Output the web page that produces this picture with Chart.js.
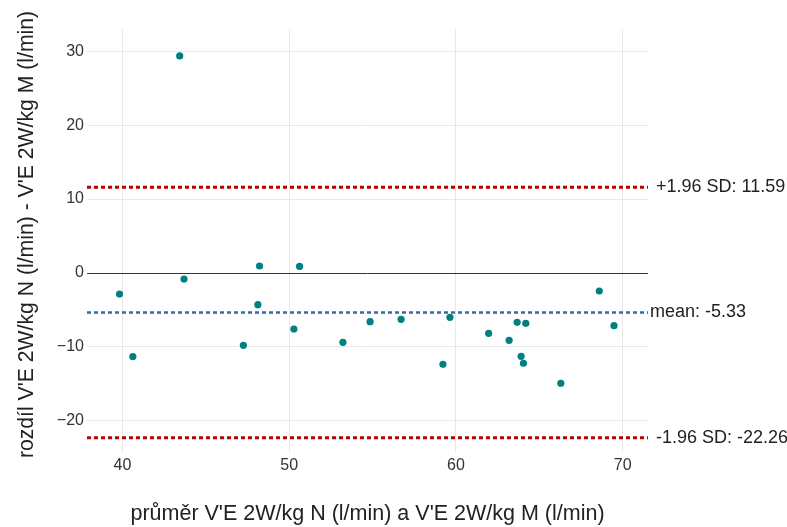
<!DOCTYPE html>
<html>
<head>
<meta charset="utf-8">
<script src="https://cdn.jsdelivr.net/npm/chart.js@4/dist/chart.umd.min.js"></script>
<style>
  html, body { margin: 0; padding: 0; background: #fff; }
  #wrap { width: 787px; height: 527px; }
</style>
</head>
<body>
<div id="wrap"><canvas id="canvas" width="787" height="527"></canvas></div>
<script>
// průměr obou měření (osa x)
var meanValues = [43.43, 39.82, 40.62, 43.69, 47.25, 48.22, 48.12, 50.62, 50.28, 53.22, 54.85,
  56.71, 59.64, 59.22, 61.96, 63.19, 63.67, 64.19, 63.91, 64.05, 66.29, 68.60, 69.48];
// rozdíl N - M (osa y)
var diffValues = [29.36, -2.84, -11.30, -0.81, -9.77, 0.95, -4.28, 0.90, -7.57, -9.37, -6.58,
  -6.26, -5.99, -12.34, -8.15, -9.10, -6.67, -6.80, -11.26, -12.20, -14.90, -2.43, -7.12];

var meanDiff = -5.33;
var upperLoA = 11.59;
var lowerLoA = -22.26;

var xMin = 37.87, xMax = 71.52;
var yMin = -24.2, yMax = 33.0;
var xTicks = [40, 50, 60, 70];
var yTicks = [-20, -10, 0, 10, 20, 30];

var xTitle = 'průměr V\'E 2W/kg N (l/min) a V\'E 2W/kg M (l/min)';
var yTitle = 'rozdíl V\'E 2W/kg N (l/min) - V\'E 2W/kg M (l/min)';

var FONT = '"Liberation Sans", Arial, sans-serif';

function hLine(value) {
  return [{ x: xMin, y: value }, { x: xMax, y: value }];
}

var points = meanValues.map(function(v, i) {
  return { x: v, y: diffValues[i] };
});

//==============================================> popisky čar vpravo + titulek osy y
var lineLabels = {
  id: 'lineLabels',
  afterDraw: function(chart) {
    var ctx = chart.ctx;
    var y = chart.scales.y;
    var right = chart.chartArea.right;
    ctx.save();
    ctx.font = '18px ' + FONT;
    ctx.fillStyle = '#222';
    ctx.textBaseline = 'middle';
    ctx.textAlign = 'left';
    ctx.fillText('+1.96 SD: ' + upperLoA.toFixed(2), right + 8, y.getPixelForValue(upperLoA));
    ctx.fillText('mean: ' + meanDiff.toFixed(2), right + 2, y.getPixelForValue(meanDiff));
    ctx.fillText('-1.96 SD: ' + lowerLoA.toFixed(2), right + 8, y.getPixelForValue(lowerLoA));
    ctx.restore();

    ctx.save();
    ctx.font = '21.2px ' + FONT;
    ctx.fillStyle = '#222';
    ctx.textAlign = 'center';
    ctx.textBaseline = 'alphabetic';
    ctx.translate(33, 234.5);
    ctx.rotate(-Math.PI / 2);
    ctx.fillText(yTitle, 0, 0);
    ctx.restore();
  }
};

var config = {
  type: 'scatter',
  data: {
    datasets: [
      {
        label: 'data',
        data: points,
        backgroundColor: '#008080',
        borderColor: '#008080',
        pointRadius: 3.6,
        pointBorderWidth: 0,
        order: 0
      },
      {
        type: 'line',
        label: 'mean',
        data: hLine(meanDiff),
        borderColor: '#2f6ea6',
        borderWidth: 2.5,
        borderDash: [4, 3],
        pointRadius: 0,
        fill: false,
        order: 1
      },
      {
        type: 'line',
        label: '+1.96 SD',
        data: hLine(upperLoA),
        borderColor: '#bb0000',
        borderWidth: 3,
        borderDash: [4, 3],
        pointRadius: 0,
        fill: false,
        order: 1
      },
      {
        type: 'line',
        label: '-1.96 SD',
        data: hLine(lowerLoA),
        borderColor: '#bb0000',
        borderWidth: 3,
        borderDash: [4, 3],
        pointRadius: 0,
        fill: false,
        order: 1
      }
    ]
  },
  options: {
    responsive: false,
    animation: false,
    layout: { padding: { left: 0, top: 29, right: 139, bottom: 0 } },
    plugins: {
      legend: { display: false },
      tooltip: { enabled: false }
    },
    scales: {
      x: {
        type: 'linear',
        min: xMin,
        max: xMax,
        afterFit: function(scale) { scale.height = 75; },
        afterBuildTicks: function(scale) {
          scale.ticks = xTicks.map(function(v) { return { value: v }; });
        },
        border: { display: false },
        grid: { color: '#e8e8e8', lineWidth: 1, drawTicks: false },
        ticks: {
          padding: 4,
          color: '#333',
          font: { family: FONT, size: 16 },
          maxRotation: 0
        },
        title: {
          display: true,
          text: xTitle,
          color: '#222',
          font: { family: FONT, size: 21.5 },
          padding: { top: 0, bottom: 0 }
        }
      },
      y: {
        type: 'linear',
        min: yMin,
        max: yMax,
        afterFit: function(scale) { scale.width = 87; },
        afterBuildTicks: function(scale) {
          scale.ticks = yTicks.map(function(v) { return { value: v }; });
        },
        border: { display: false },
        grid: {
          color: function(c) { return c.tick && c.tick.value === 0 ? '#333' : '#e8e8e8'; },
          lineWidth: 1,
          drawTicks: false
        },
        ticks: {
          padding: 3,
          color: '#333',
          font: { family: FONT, size: 16 },
          callback: function(v) { return v < 0 ? '\u2212' + Math.abs(v) : String(v); }
        },
        title: { display: false }
      }
    }
  },
  plugins: [lineLabels]
};

var ctx = document.getElementById('canvas').getContext('2d');
var chart = new Chart(ctx, config);
</script>
</body>
</html>
